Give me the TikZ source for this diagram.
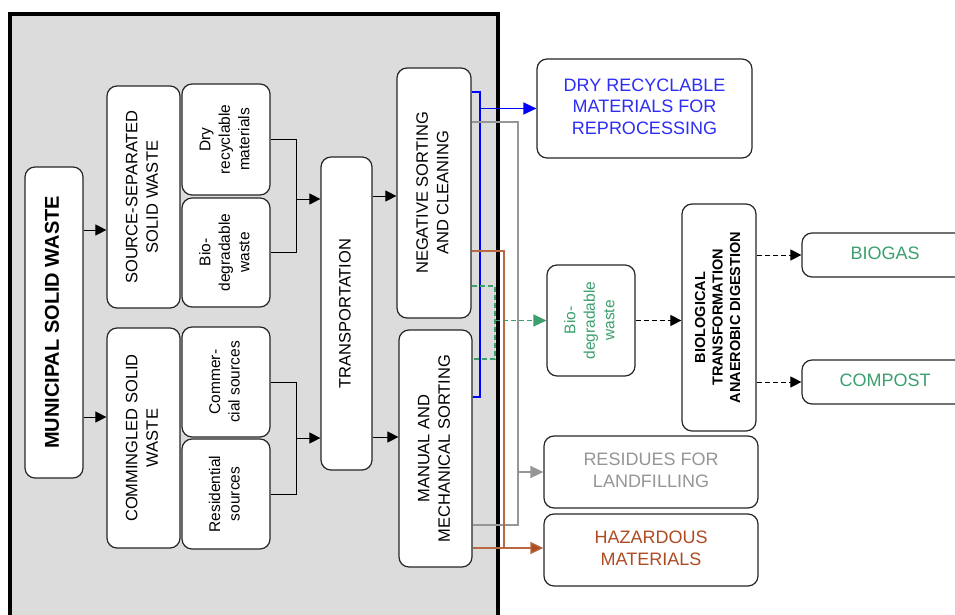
\documentclass[tikz,border=0pt]{standalone}
\usepackage{fontspec}
\setmainfont{Liberation Sans}
\usetikzlibrary{arrows.meta}
\definecolor{bggray}{RGB}{220,220,220}
\definecolor{lineblue}{RGB}{0,0,255}
\definecolor{txtblue}{RGB}{45,45,245}
\definecolor{mygreen}{RGB}{60,160,110}
\definecolor{mygray}{RGB}{150,150,150}
\definecolor{mybrown}{RGB}{175,75,35}
\definecolor{linebrown}{RGB}{185,105,65}
\newcommand{\vtxt}[3]{\rotatebox{90}{\fontsize{#1}{#2}\selectfont\begin{tabular}{@{}c@{}}#3\end{tabular}}}
\newcommand{\htxt}[3]{\fontsize{#1}{#2}\selectfont\begin{tabular}{@{}c@{}}#3\end{tabular}}
\tikzset{
  box/.style={draw=black!85, line width=1.2pt, rounded corners=10pt, fill=white, inner sep=0pt},
  conn/.style={draw=black, line width=1pt},
  arr/.style={conn, -{Triangle[length=11pt,width=11pt]}},
  darr/.style={arr, dash pattern=on 5pt off 3pt},
  blueline/.style={draw=lineblue, line width=1.4pt},
  grayline/.style={draw=mygray, line width=1.3pt},
  brownline/.style={draw=linebrown, line width=1.3pt},
  greenline/.style={draw=mygreen, line width=1.3pt, dash pattern=on 5pt off 3pt},
}
\begin{document}
\begin{tikzpicture}[x=1pt,y=-1pt]
\useasboundingbox (0,0) rectangle (955,615);
% gray panel
\fill[bggray] (10,14) rectangle (498,630);
\draw[line width=3.5pt] (10,630) -- (10,14) -- (498,14) -- (498,630);

% left boxes
\node[box, minimum width=58pt, minimum height=311pt] (msw) at (54,322.5)
  {\vtxt{20}{24}{\bfseries MUNICIPAL SOLID WASTE}};
\node[box, minimum width=73pt, minimum height=222pt] (ssw) at (143.5,197)
  {\vtxt{16.5}{20.7}{SOURCE-SEPARATED\\SOLID WASTE}};
\node[box, minimum width=88pt, minimum height=111pt] (dry) at (226,139.5)
  {\vtxt{15.5}{19.5}{Dry\\recyclable\\materials}};
\node[box, minimum width=88pt, minimum height=109pt] (biol) at (226,252.5)
  {\vtxt{15.5}{19.5}{Bio-\\degradable\\waste}};
\node[box, minimum width=73pt, minimum height=220pt] (csw) at (143.5,438)
  {\vtxt{16.5}{20.7}{COMMINGLED SOLID\\WASTE}};
\node[box, minimum width=88pt, minimum height=110pt] (comm) at (226,382)
  {\vtxt{15.5}{19.5}{Commer-\\cial sources}};
\node[box, minimum width=88pt, minimum height=110pt] (res) at (226,494)
  {\vtxt{15.5}{19.5}{Residential\\sources}};
\node[box, minimum width=51pt, minimum height=313pt] (trans) at (346.5,313.5)
  {\vtxt{16.5}{20.7}{TRANSPORTATION}};
\node[box, minimum width=74pt, minimum height=250pt] (nsc) at (434,193)
  {\vtxt{16.5}{20.7}{NEGATIVE SORTING\\AND CLEANING}};
\node[box, minimum width=73pt, minimum height=237pt] (mms) at (435.5,448.5)
  {\vtxt{16.5}{20.7}{MANUAL AND\\MECHANICAL SORTING}};

% right boxes
\node[box, minimum width=215pt, minimum height=99pt, text=txtblue] (dryo) at (644.5,108.5)
  {\htxt{18}{21.7}{DRY RECYCLABLE\\MATERIALS FOR\\REPROCESSING}};
\node[box, minimum width=88pt, minimum height=111pt, text=mygreen] (bior) at (591,320.5)
  {\vtxt{15.5}{19.5}{Bio-\\degradable\\waste}};
\node[box, minimum width=74pt, minimum height=227pt] (biot) at (719,317.5)
  {\vtxt{14.5}{17.5}{\bfseries BIOLOGICAL\\\bfseries TRANSFORMATION\\\bfseries ANAEROBIC DIGESTION}};
\node[box, minimum width=166pt, minimum height=44pt, text=mygreen] (biogas) at (885,255)
  {\htxt{18}{21.7}{BIOGAS}};
\node[box, minimum width=166pt, minimum height=44pt, text=mygreen] (compost) at (885,382)
  {\htxt{18}{21.7}{COMPOST}};
\node[box, minimum width=214pt, minimum height=72pt, text=mygray] (resid) at (651,472)
  {\htxt{18}{21.7}{RESIDUES FOR\\LANDFILLING}};
\node[box, minimum width=214pt, minimum height=72pt, text=mybrown] (haz) at (651,550)
  {\htxt{18}{21.7}{HAZARDOUS\\MATERIALS}};

% black connectors
\draw[arr] (msw.east |- 0,230) -- (ssw.west |- 0,230);
\draw[arr] (msw.east |- 0,417) -- (csw.west |- 0,417);
\coordinate (j1) at (296,199);
\coordinate (j2) at (296,438);
\draw[conn] (dry.east) -- (dry.east -| j1) -- (biol.east -| j1) -- (biol.east);
\draw[arr] (j1) -- (trans.west |- j1);
\draw[conn] (comm.east) -- (comm.east -| j2) -- (res.east -| j2) -- (res.east);
\draw[arr] (j2) -- (trans.west |- j2);
\draw[arr] (trans.east |- 0,196) -- (nsc.west |- 0,196);
\draw[arr] (trans.east |- 0,437) -- (mms.west |- 0,437);

% coloured connectors
\coordinate (bx) at (480,0);
\coordinate (gx) at (518,0);
\coordinate (rx) at (504,0);
\coordinate (ex) at (495,0);
\draw[blueline] (nsc.east |- 0,92) -- (bx |- 0,92) -- (bx |- 0,397) -- (mms.east |- 0,397);
\draw[blueline, -{Triangle[length=13pt,width=12pt]}] (dryo.west -| bx) -- (dryo.west);
\draw[grayline] (nsc.east |- 0,122) -- (gx |- 0,122) -- (gx |- 0,525) -- (mms.east |- 0,525);
\draw[grayline, -{Triangle[length=13pt,width=12pt]}] (resid.west -| gx) -- (resid.west);
\draw[brownline] (nsc.east |- 0,251) -- (rx |- 0,251) -- (rx |- 0,548);
\draw[brownline, -{Triangle[length=13pt,width=12pt,fill=mybrown]}, draw=linebrown] (mms.east |- 0,548) -- (haz.west |- 0,548);
\draw[greenline] (nsc.east |- 0,286) -- (ex |- 0,286) -- (ex |- 0,359) -- (mms.east |- 0,359);
\draw[greenline, -{Triangle[length=13pt,width=12pt]}] (bior.west -| ex) -- (bior.west);

% dashed black
\draw[darr] (bior.east) -- (biot.west |- bior.east);
\draw[darr] (biot.east |- biogas.west) -- (biogas.west);
\draw[darr] (biot.east |- compost.west) -- (compost.west);
\end{tikzpicture}
\end{document}
